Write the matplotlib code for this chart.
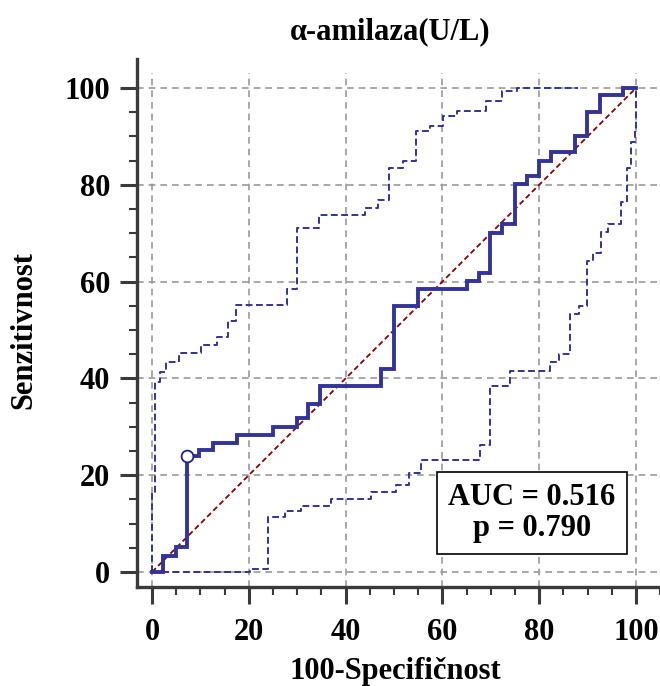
"""
ROC curve for alpha-amylase (U/L) with 95% confidence bands.
Writes out.png in the working folder.
"""

import matplotlib
matplotlib.use("Agg")
import matplotlib.pyplot as plt
from matplotlib.ticker import MultipleLocator

# -------- Data --------
# ROC curve corners, drawn as steps-post (horizontal first, then vertical)
ROC_X = [0, 2.3, 4.9, 7.3, 9.8, 12.5, 17.5, 25.1, 29.9, 32.3, 34.7, 47.3,
         50.0, 54.9, 65.0, 67.6, 69.8, 72.4, 75.1, 77.5, 80.0, 82.4, 87.4,
         89.9, 92.6, 97.4, 100]
ROC_Y = [0, 3.3, 5.1, 24.0, 25.2, 26.6, 28.3, 30.0, 31.8, 34.8, 38.4, 41.9,
         55.0, 58.5, 60.1, 61.8, 70.1, 71.8, 80.1, 81.8, 85.0, 86.7, 90.1,
         95.0, 98.6, 100.0, 100.0]

# optimal cut-off (Youden) point
CUT_X = [7.3]
CUT_Y = [24.0]

# upper 95% confidence band
UP_X = [0, 0, 0.6, 1.65, 2.8, 5.6, 10.1, 13.5, 15.6, 17.4, 27.8, 29.9, 34.5,
        44.1, 46.6, 49.0, 51.8, 54.5, 57.4, 60.2, 63.1, 69.1, 72.4, 75.5, 88.0]
UP_Y = [0, 16.4, 39.3, 41.4, 43.3, 45.2, 46.8, 48.5, 51.9, 55.1, 58.5, 71.0,
        73.8, 75.2, 76.9, 83.5, 85.0, 91.1, 92.2, 94.3, 95.3, 97.4, 99.4, 99.9,
        99.9]

# lower 95% confidence band
LO_X = [0, 20.2, 24.0, 27.5, 30.7, 36.9, 45.2, 50.5, 53.2, 55.6, 67.8, 69.8,
        74.0, 82.2, 84.1, 86.3, 88.2, 89.8, 91.2, 92.7, 94.3, 96.8, 98.1,
        98.9, 99.8, 100]
LO_Y = [0, 0.7, 11.3, 12.7, 13.7, 15.1, 16.5, 18.0, 20.4, 23.1, 26.2, 38.4,
        41.6, 43.3, 45.0, 53.4, 55.0, 64.3, 66.0, 70.3, 72.0, 76.5, 83.5,
        88.9, 91.3, 100.0]

DIAG = [0, 100]

AUC = 0.516
P_VALUE = 0.790

TITLE = "α-amilaza(U/L)"
XLABEL = "100-Specifičnost"
YLABEL = "Senzitivnost"

# -------- Style --------
BLUE = "#333399"
DARKRED = "#8b0000"
SPINE = "#3a3a3a"
FONT = ["Liberation Serif", "DejaVu Serif"]

plt.rcParams["font.family"] = FONT
plt.rcParams["font.weight"] = "bold"

W, H = 660, 686
fig = plt.figure(figsize=(W / 100, H / 100), dpi=100)

XMIN, XMAX = -3.1, 105.3
YMIN, YMAX = -3.1, 103.0
PX = 4.84  # pixels per data unit
ax = fig.add_axes([137 / W, (H - 587) / H,
                   (XMAX - XMIN) * PX / W, (YMAX - YMIN) * PX / H])
ax.set_xlim(XMIN, XMAX)
ax.set_ylim(YMIN, YMAX)

# grid
ax.grid(True, which="major", linestyle=(0, (4, 3)), color="#9a9a9a",
        linewidth=1.2, zorder=0)
ax.set_axisbelow(True)

# diagonal reference
ax.plot(DIAG, DIAG, color=DARKRED, linewidth=1.3, linestyle=(0, (3, 1.8)),
        zorder=2)

# confidence bands
ax.plot(UP_X, UP_Y, drawstyle="steps-post", color=BLUE, linewidth=1.4,
        linestyle=(0, (3.5, 1.8)), zorder=3)
ax.plot(LO_X, LO_Y, drawstyle="steps-post", color=BLUE, linewidth=1.4,
        linestyle=(0, (3.5, 1.8)), zorder=3)

# ROC curve
ax.plot(ROC_X, ROC_Y, drawstyle="steps-post", color=BLUE, linewidth=2.8,
        solid_joinstyle="miter", zorder=4)
ax.plot(CUT_X, CUT_Y, "o", markersize=8.5, markerfacecolor="white",
        markeredgecolor="#1f1f8f", markeredgewidth=1.3, zorder=5)

# AUC box
ax.text(78.5, 12.2, f"AUC = {AUC:.3f}\np = {P_VALUE:.3f}", ha="center",
        va="center", fontsize=22, fontweight="bold", linespacing=1.1,
        bbox=dict(boxstyle="square,pad=0.36", facecolor="white",
                  edgecolor="black", linewidth=1.2), zorder=6)

# axes styling
for side in ("top", "right"):
    ax.spines[side].set_visible(False)
for side in ("left", "bottom"):
    ax.spines[side].set_color(SPINE)
    ax.spines[side].set_linewidth(2.4)
ax.spines["left"].set_bounds(YMIN, 106)

ax.xaxis.set_major_locator(MultipleLocator(20))
ax.xaxis.set_minor_locator(MultipleLocator(5))
ax.yaxis.set_major_locator(MultipleLocator(20))
ax.yaxis.set_minor_locator(MultipleLocator(5))
ax.tick_params(which="major", direction="out", length=12.5, width=2.2,
               color=SPINE, labelsize=22)
ax.tick_params(which="minor", direction="out", length=6, width=1.5,
               color=SPINE)
ax.tick_params(axis="x", which="major", pad=10)
ax.tick_params(axis="y", which="major", pad=7)
for lab in ax.get_xticklabels() + ax.get_yticklabels():
    lab.set_fontweight("bold")

# titles / labels
fig.text(390 / W, 1 - 32 / H, TITLE, ha="center", va="center",
         fontsize=22, fontweight="bold")
fig.text(395 / W, 1 - 672 / H, XLABEL, ha="center", va="center",
         fontsize=22, fontweight="bold")
fig.text(24 / W, 1 - 330 / H, YLABEL, ha="center", va="center",
         rotation=90, fontsize=22, fontweight="bold")

fig.savefig("out.png", dpi=100)
